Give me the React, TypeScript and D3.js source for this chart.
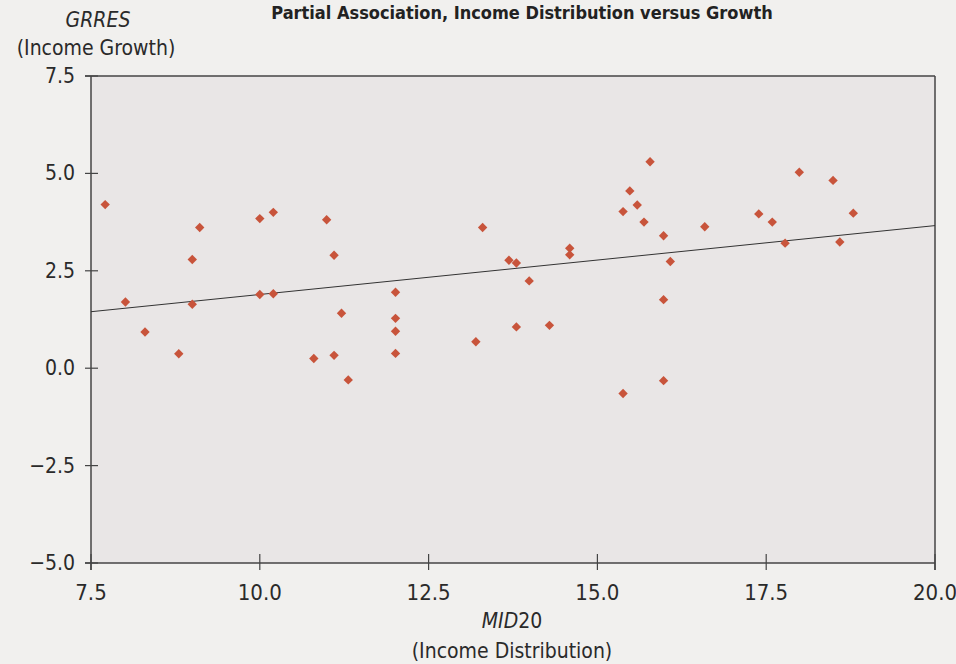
import React from 'react';
import * as d3 from 'd3';

// MID20 (x) and GRRES (y)
const mid20 = [
  7.71, 8.01, 8.30, 8.80, 9.00, 9.00, 9.11, 10.0, 10.0, 10.2, 10.2, 10.99, 11.10, 11.21, 10.80, 11.10, 11.31,
  12.01, 12.01, 12.01, 12.01, 13.30, 13.20, 13.69, 13.80, 13.99, 13.80, 14.29, 14.59, 14.59,
  15.78, 15.48, 15.59, 15.38, 15.69, 15.98, 16.08, 15.98, 16.59, 17.39, 17.59, 17.78, 17.99, 18.49, 18.79, 18.59,
  15.98, 15.38,
];
const grres = [
  4.20, 1.70, 0.93, 0.37, 2.79, 1.64, 3.61, 3.84, 1.89, 4.00, 1.91, 3.81, 2.90, 1.41, 0.25, 0.33, -0.30,
  1.95, 1.28, 0.95, 0.38, 3.61, 0.68, 2.77, 2.70, 2.24, 1.06, 1.10, 3.08, 2.91,
  5.30, 4.55, 4.19, 4.02, 3.75, 3.40, 2.74, 1.76, 3.63, 3.96, 3.75, 3.21, 5.03, 4.82, 3.98, 3.24,
  -0.32, -0.65,
];
// fitted line end points
const fitX = [7.5, 20];
const fitY = [1.45, 3.66];

const xTicks = [7.5, 10, 12.5, 15, 17.5, 20];
const yTicks = [-5, -2.5, 0, 2.5, 5, 7.5];

const W = 956;
const H = 664;
const left = 91, right = 935, top = 76, bottom = 563;
const font = "'DejaVu Sans Condensed', 'Liberation Sans Narrow', 'Open Sans', sans-serif";

export default function App() {
  const x = d3.scaleLinear().domain([7.5, 20]).range([left, right]);
  const y = d3.scaleLinear().domain([-5, 7.5]).range([bottom, top]);
  const diamond = d3.symbol().type(d3.symbolSquare).size(44)();
  const fit = d3.line<number>().x((d, i) => x(fitX[i])).y((d, i) => y(fitY[i]))(fitY);
  const fmt = (t: number) => (t < 0 ? '\u2212' + d3.format('.1f')(-t) : d3.format('.1f')(t));

  return (
    <svg width={W} height={H} style={{ position: 'absolute', left: 0, top: 0, background: '#f1f0ee' }}>
      <rect x={0} y={0} width={W} height={H} fill="#f1f0ee" />
      <text x={522} y={19} textAnchor="middle" fontFamily={font} fontSize={18} fontWeight="bold" fill="#222">
        Partial Association, Income Distribution versus Growth
      </text>

      <rect x={left} y={top} width={right - left} height={bottom - top} fill="#e9e6e6" />

      {/* frame */}
      <line x1={left - 6} x2={right} y1={top} y2={top} stroke="#444" strokeWidth={1.5} />
      <line x1={left} x2={left} y1={top} y2={bottom + 7} stroke="#444" strokeWidth={1.5} />
      <line x1={right} x2={right} y1={top} y2={bottom + 7} stroke="#444" strokeWidth={1.5} />
      <line x1={left - 6} x2={right} y1={bottom} y2={bottom} stroke="#444" strokeWidth={1.5} />

      {yTicks.map(t => (
        <g key={'y' + t}>
          <line x1={left - 6} x2={left + 7} y1={y(t)} y2={y(t)} stroke="#444" strokeWidth={1.2} />
          <text x={left - 16} y={y(t) + 7} textAnchor="end" fontFamily={font} fontSize={21} fill="#2a2a2a">
            {fmt(t)}
          </text>
        </g>
      ))}
      {xTicks.map(t => (
        <g key={'x' + t}>
          <line x1={x(t)} x2={x(t)} y1={bottom - 9} y2={bottom + 7} stroke="#444" strokeWidth={1.2} />
          <text x={x(t)} y={bottom + 37} textAnchor="middle" fontFamily={font} fontSize={22} fill="#2a2a2a">
            {fmt(t)}
          </text>
        </g>
      ))}

      <path d={fit || ''} stroke="#333" strokeWidth={1} fill="none" />

      {mid20.map((v, i) => (
        <path key={i} d={diamond || ''} transform={`translate(${x(v)},${y(grres[i])}) rotate(45)`} fill="#c8543b" />
      ))}

      <text x={98} y={27} textAnchor="middle" fontFamily={font} fontSize={21} fontStyle="italic" fill="#2a2a2a">GRRES</text>
      <text x={96} y={55} textAnchor="middle" fontFamily={font} fontSize={21} fill="#2a2a2a">(Income Growth)</text>
      <text x={512} y={628} textAnchor="middle" fontFamily={font} fontSize={21} fill="#2a2a2a">
        <tspan fontStyle="italic">MID</tspan>20
      </text>
      <text x={512} y={658} textAnchor="middle" fontFamily={font} fontSize={21} fill="#2a2a2a">(Income Distribution)</text>
    </svg>
  );
}
